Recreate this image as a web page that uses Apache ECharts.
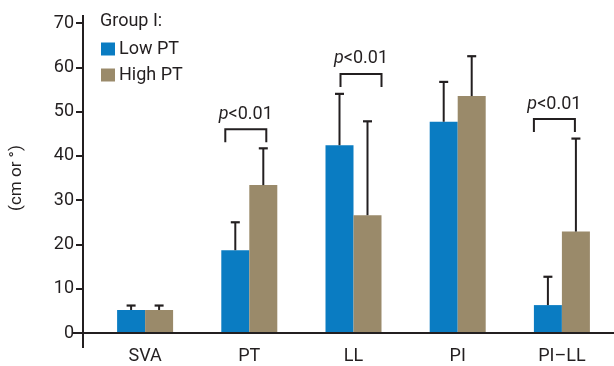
<!DOCTYPE html>
<html>
<head>
<meta charset="utf-8">
<script src="https://cdn.jsdelivr.net/npm/echarts@6/dist/echarts.min.js"></script>
<style>
  html, body { margin: 0; padding: 0; background: #fff; }
  #chart { width: 614px; height: 366px; }
</style>
</head>
<body>
<div id="chart"></div>
<script>
// Measurements per parameter (mean and SD), Group I split by pelvic tilt
const categories = ['SVA', 'PT', 'LL', 'PI', 'PI–LL'];
const seriesNames = ['Low PT', 'High PT'];
const lowMean  = [5.2, 18.7, 42.4, 47.7, 6.3];
const lowSD    = [1.0, 6.3, 11.6, 9.0, 6.4];
const highMean = [5.2, 33.4, 26.6, 53.5, 22.9];
const highSD   = [1.0, 8.3, 21.2, 9.0, 21.0];
const yTicks   = [0, 10, 20, 30, 40, 50, 60, 70];

// Significance brackets
const sigCategories = ['PT', 'LL', 'PI–LL'];
const sigLevels     = [46.0, 58.5, 48.3];
const sigText       = 'p<0.01';

// Styling
const FONT = 'Roboto, "Liberation Sans", sans-serif';
const INK = '#231f20';
const BLUE = '#0a7cc2';
const BROWN = '#9a8a6a';
const BAR_W = 28;
const CAP_W = 9;
const BRACKET_SPAN = [[-24, 17], [-13, 28], [-28, 13]]; // px from category centre
const BRACKET_LEG = 13;

const chart = echarts.init(document.getElementById('chart'), null, { renderer: 'canvas' });

function errorBars(sign) {
  return function (params, api) {
    const base = api.coord([api.value(0), api.value(1)]);
    const top = api.coord([api.value(0), api.value(1) + api.value(2)]);
    const x = base[0] + sign * BAR_W / 2;
    return {
      type: 'group',
      children: [
        { type: 'line', shape: { x1: x, y1: base[1], x2: x, y2: top[1] },
          style: { stroke: INK, lineWidth: 2 } },
        { type: 'line', shape: { x1: x - CAP_W / 2, y1: top[1], x2: x + CAP_W / 2, y2: top[1] },
          style: { stroke: INK, lineWidth: 2.2 } }
      ]
    };
  };
}

function bracket(params, api) {
  const p = api.coord([api.value(0), api.value(1)]);
  const span = BRACKET_SPAN[params.dataIndex];
  const x1 = p[0] + span[0], x2 = p[0] + span[1], y = p[1];
  return {
    type: 'group',
    children: [
      { type: 'polyline',
        shape: { points: [[x1, y + BRACKET_LEG], [x1, y], [x2, y], [x2, y + BRACKET_LEG]] },
        style: { stroke: INK, lineWidth: 2, fill: null } },
      { type: 'text', x: (x1 + x2) / 2, y: y - 6,
        style: {
          text: '{i|p}{n|' + sigText.slice(1) + '}',
          align: 'center', verticalAlign: 'bottom',
          fill: INK, fontFamily: FONT, fontSize: 18,
          rich: {
            i: { fontStyle: 'italic', fontFamily: FONT, fontSize: 18, fill: INK },
            n: { fontFamily: FONT, fontSize: 18, fill: INK }
          }
        } }
    ]
  };
}

const option = {
  animation: false,
  backgroundColor: '#fff',
  textStyle: { fontFamily: FONT, color: INK },
  title: {
    text: 'Group I:', left: 100, top: 12, padding: 0,
    textStyle: { fontFamily: FONT, fontSize: 18, fontWeight: 'normal', color: INK }
  },
  legend: {
    data: seriesNames, orient: 'vertical', left: 101, top: 39, padding: 0,
    itemWidth: 14, itemHeight: 13, itemGap: 6,
    icon: 'rect',
    textStyle: { fontFamily: FONT, fontSize: 18, color: INK, lineHeight: 20, padding: [0, 0, 0, -1] }
  },
  grid: { left: 93, top: 23, width: 524, bottom: 33 },
  xAxis: {
    type: 'category', data: categories,
    axisLine: { show: false }, axisTick: { show: false },
    axisLabel: { fontFamily: FONT, fontSize: 18, color: INK, margin: 14 }
  },
  yAxis: {
    type: 'value', min: 0, max: 70, interval: 10, offset: 10,
    name: '(cm or °)', nameLocation: 'middle', nameGap: 58, nameRotate: 90,
    nameTextStyle: { fontFamily: FONT, fontSize: 17, color: INK },
    axisLine: { show: false },
    axisTick: { show: true, length: 7, lineStyle: { color: INK, width: 2 } },
    axisLabel: {
      fontFamily: FONT, fontSize: 18, color: INK, margin: 9,
      formatter: v => (yTicks.indexOf(v) >= 0 ? String(v) : '')
    },
    splitLine: { show: false }
  },
  series: [
    { name: seriesNames[0], type: 'bar', data: lowMean, barWidth: BAR_W, barGap: '0%',
      itemStyle: { color: BLUE } },
    { name: seriesNames[1], type: 'bar', data: highMean, barWidth: BAR_W, barGap: '0%',
      itemStyle: { color: BROWN } },
    { type: 'custom', renderItem: errorBars(-1), z: 5,
      encode: { x: 0, y: 1 },
      data: categories.map((c, i) => [i, lowMean[i], lowSD[i]]) },
    { type: 'custom', renderItem: errorBars(1), z: 5,
      encode: { x: 0, y: 1 },
      data: categories.map((c, i) => [i, highMean[i], highSD[i]]) },
    { type: 'custom', renderItem: bracket, z: 5,
      encode: { x: 0, y: 1 },
      data: sigCategories.map((c, i) => [categories.indexOf(c), sigLevels[i]]) }
  ]
};

chart.setOption(option);

// Axis lines: y axis runs a little past both ends, x axis spans the full width
const y0 = chart.convertToPixel({ yAxisIndex: 0 }, 0);
const yMax = chart.convertToPixel({ yAxisIndex: 0 }, 70);
const axisX = 93 - 10;
chart.setOption({
  graphic: [
    { type: 'line', z: 10,
      shape: { x1: axisX, y1: yMax - 8, x2: axisX, y2: y0 + 15 },
      style: { stroke: INK, lineWidth: 2 } },
    { type: 'line', z: 10,
      shape: { x1: axisX - 11, y1: y0, x2: 614, y2: y0 },
      style: { stroke: INK, lineWidth: 2 } }
  ]
});
</script>
</body>
</html>
